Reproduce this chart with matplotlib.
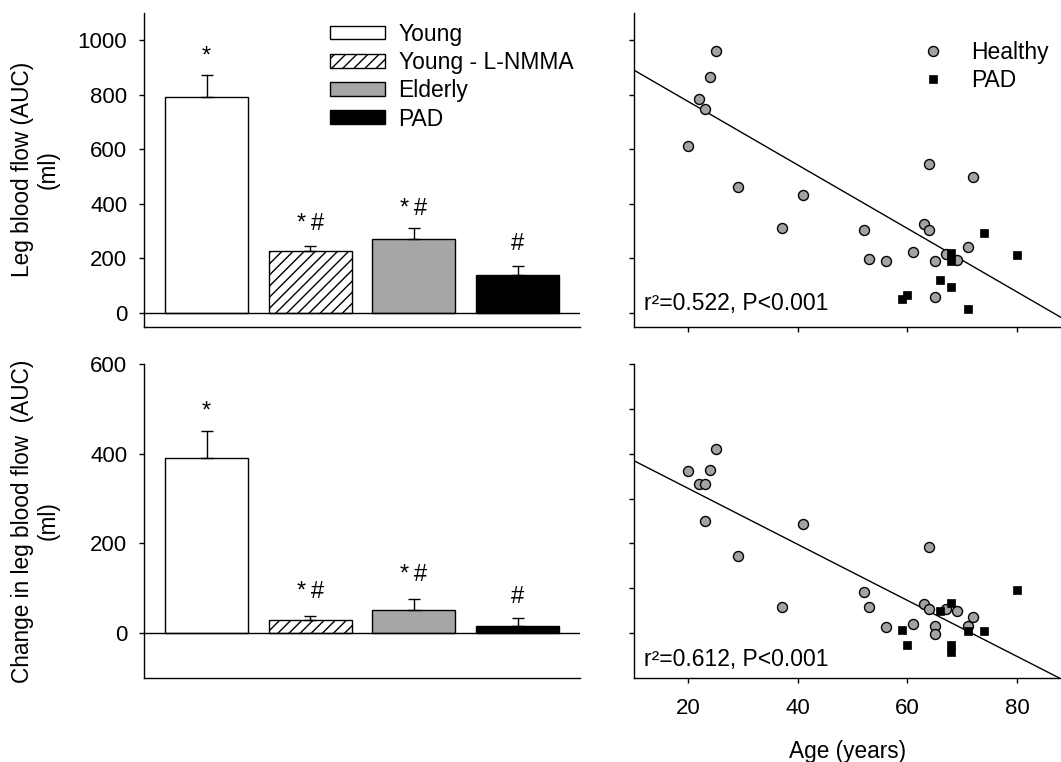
import numpy as np
import matplotlib
matplotlib.use("Agg")
import matplotlib.pyplot as plt
from matplotlib.patches import Patch

plt.rcParams['font.family'] = ['Liberation Sans', 'DejaVu Sans']
plt.rcParams['font.size'] = 16
plt.rcParams['hatch.linewidth'] = 1.0

# bar panels
groups = ['Young', 'Young - L-NMMA', 'Elderly', 'PAD']
flow_mean = [790, 226, 270, 140]
flow_sem = [80, 18, 40, 32]
flow_marks = ['*', '*\u2009#', '*\u2009#', '#']
flow_mark_y = [917, 304, 359, 231]

change_mean = [390, 30, 52, 15]
change_sem = [61, 8, 25, 19]
change_marks = ['*', '*\u2009#', '*\u2009#', '#']
change_mark_y = [481, 78, 117, 67]

bar_faces = ['white', 'white', '#a6a6a6', 'black']
bar_hatches = [None, '///', None, None]

# scatter panels: age vs flow
flow_healthy_age = [25, 24, 22, 23, 20, 29, 37, 41, 52, 53, 56, 61, 63, 64, 64, 65, 65, 67, 69, 71, 72]
flow_healthy_val = [961, 865, 785, 746, 613, 462, 312, 434, 305, 199, 190, 224, 327, 305, 545, 190, 57, 216, 195, 240, 498]
flow_pad_age = [59, 60, 66, 68, 68, 68, 71, 74, 80]
flow_pad_val = [53, 66, 122, 219, 192, 94, 15, 293, 214]
flow_fit_x = [10, 88.3]
flow_fit_y = [890, -19]
flow_stat = 'r²=0.522, P<0.001'

change_healthy_age = [25, 20, 24, 22, 23, 23, 29, 41, 37, 52, 53, 56, 61, 63, 64, 64, 65, 65, 67, 69, 71, 72]
change_healthy_val = [412, 362, 365, 333, 333, 250, 171, 244, 57, 92, 59, 13, 21, 64, 53, 193, 15, -2, 53, 49, 15, 36]
change_pad_age = [59, 60, 66, 68, 68, 68, 71, 74, 80]
change_pad_val = [6, -26, 49, 67, -26, -42, 4, 4, 95]
change_fit_x = [10, 88.3]
change_fit_y = [385, -104]
change_stat = 'r²=0.612, P<0.001'

fig = plt.figure(figsize=(10.61, 7.62), dpi=100)
ax1 = fig.add_axes([0.1360, 0.5713, 0.4105, 0.4121])
ax2 = fig.add_axes([0.1360, 0.1105, 0.4105, 0.4114])
ax3 = fig.add_axes([0.5973, 0.5713, 0.4040, 0.4121])
ax4 = fig.add_axes([0.5973, 0.1105, 0.4040, 0.4114])


def style(ax):
    for s in ['top', 'right']:
        ax.spines[s].set_visible(False)
    for s in ['left', 'bottom']:
        ax.spines[s].set_linewidth(1.0)
    ax.tick_params(direction='out', length=3.8, width=1.0, pad=8.5)
    ax.tick_params(axis='x', pad=11)


def bar_panel(ax, means, sems, marks, mark_y, ylim, yticks, ylabel):
    x = np.arange(len(means))
    ax.bar(x, means, width=0.8, color=bar_faces, edgecolor='black',
           linewidth=1.0, hatch=bar_hatches, zorder=2)
    ax.errorbar(x, means, yerr=[np.zeros(len(means)), sems], fmt='none',
                ecolor='black', elinewidth=1.0, capsize=4, capthick=1.0, zorder=3)
    for xi, m, yy in zip(x, marks, mark_y):
        ax.text(xi, yy, m, ha='center', va='baseline', fontsize=17)
    ax.axhline(0, color='black', lw=1.0, zorder=4)
    ax.set_xlim(-0.6, 3.6)
    ax.set_ylim(*ylim)
    ax.set_xticks([])
    ax.set_yticks(yticks)
    style(ax)
    ax.set_ylabel(ylabel, linespacing=1.15, fontsize=16.3)
    ax.yaxis.set_label_coords(-0.195, 0.5)


bar_panel(ax1, flow_mean, flow_sem, flow_marks, flow_mark_y, (-50, 1100),
          [0, 200, 400, 600, 800, 1000], 'Leg blood flow (AUC)\n(ml)')
bar_panel(ax2, change_mean, change_sem, change_marks, change_mark_y, (-100, 600),
          [0, 200, 400, 600], 'Change in leg blood flow  (AUC)\n(ml)')

handles = [Patch(facecolor=f, edgecolor='black', hatch=h, linewidth=1.0)
           for f, h in zip(bar_faces, bar_hatches)]
ax1.legend(handles, groups, loc='upper left', bbox_to_anchor=(0.426, 0.968),
           frameon=False, borderpad=0, borderaxespad=0, handlelength=2.4,
           handleheight=0.55, handletextpad=0.6, labelspacing=0.23, fontsize=16.5)


def scatter_panel(ax, h_age, h_val, p_age, p_val, fit_x, fit_y, stat, stat_y,
                  ylim, yticks, xlabels):
    ax.plot(fit_x, fit_y, color='black', lw=1.0, zorder=2)
    ax.plot(h_age, h_val, 'o', ms=7.2, mfc='#a3a3a3', mec='black', mew=1.0,
            ls='none', zorder=3, label='Healthy')
    ax.plot(p_age, p_val, 's', ms=5.2, mfc='black', mec='black', mew=0.5,
            ls='none', zorder=4, label='PAD')
    ax.text(11.8, stat_y, stat, ha='left', va='baseline', fontsize=16.5)
    ax.set_xlim(10, 88.3)
    ax.set_ylim(*ylim)
    ax.set_xticks([20, 40, 60, 80])
    ax.set_yticks(yticks)
    style(ax)
    ax.tick_params(labelleft=False, labelbottom=xlabels)


scatter_panel(ax3, flow_healthy_age, flow_healthy_val, flow_pad_age, flow_pad_val,
              flow_fit_x, flow_fit_y, flow_stat, 11, (-50, 1100),
              [0, 200, 400, 600, 800, 1000], False)
scatter_panel(ax4, change_healthy_age, change_healthy_val, change_pad_age, change_pad_val,
              change_fit_x, change_fit_y, change_stat, -73, (-100, 600),
              [0, 100, 200, 300, 400, 500, 600], True)
ax4.set_xlabel('Age (years)', labelpad=15, fontsize=16.3)

ax3.legend(loc='upper left', bbox_to_anchor=(0.672, 0.91), frameon=False,
           borderpad=0, borderaxespad=0, handlelength=1.0, handletextpad=1.15,
           labelspacing=0.24, fontsize=16.5)

fig.savefig('out.png', dpi=100)
